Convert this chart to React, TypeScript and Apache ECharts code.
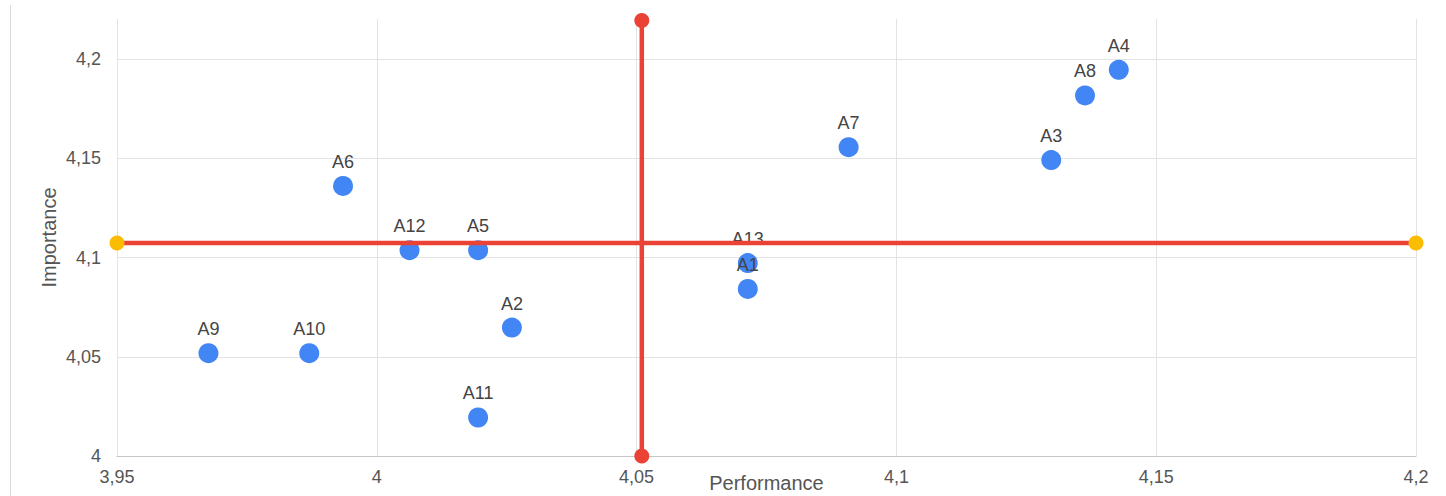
import React, { useEffect, useRef } from "react";
import * as echarts from "echarts";

const pointLabels = ["A1", "A2", "A3", "A4", "A5", "A6", "A7", "A8", "A9", "A10", "A11", "A12", "A13"];
const performance = [4.0714, 4.026, 4.1298, 4.1428, 4.0195, 3.9935, 4.0908, 4.1363, 3.9676, 3.987, 4.0195, 4.0063, 4.0714];
const importance = [4.0842, 4.0647, 4.1491, 4.1946, 4.1037, 4.1361, 4.1556, 4.1817, 4.0518, 4.0518, 4.0194, 4.1037, 4.0972];

const xMin = 3.95;
const xMax = 4.2;
const yMin = 4.0;
const yMax = 4.2202;
const tickStep = 0.05;

const perfMean = 4.051;
const impMean = 4.1073;
const vLineY = [4.0, 4.2195];

const fmt = (v: number) => String(parseFloat(v.toFixed(4))).replace(".", ",");

export default function App() {
  const ref = useRef<HTMLDivElement>(null);
  useEffect(() => {
    if (!ref.current) return;
    const chart = echarts.init(ref.current, null, { renderer: "svg" });
    const font = "'Liberation Sans', Arial, sans-serif";
    chart.setOption({
      animation: false,
      backgroundColor: "#ffffff",
      textStyle: { fontFamily: font },
      grid: { left: 117, right: 30, top: 19, bottom: 40, containLabel: false, outerBoundsMode: "none" },
      graphic: [
        {
          type: "line",
          shape: { x1: 10.5, y1: 5, x2: 10.5, y2: 496 },
          style: { stroke: "#dadada", lineWidth: 1 },
          silent: true,
        },
      ],
      xAxis: {
        type: "value",
        min: xMin,
        max: xMax,
        interval: tickStep,
        name: "Performance",
        nameLocation: "middle",
        nameGap: 17,
        nameMoveOverlap: false,
        nameTextStyle: { fontSize: 20, color: "#555", fontFamily: font },
        axisLine: { show: true, lineStyle: { color: "#c6c6c6", width: 1 } },
        axisTick: { show: false },
        axisLabel: { fontSize: 18, color: "#555", margin: 12, fontFamily: font, formatter: fmt },
        splitLine: { show: true, showMinLine: true, showMaxLine: true, lineStyle: { color: "#e3e3e3", width: 1 } },
      },
      yAxis: {
        type: "value",
        min: yMin,
        max: yMax,
        interval: tickStep,
        name: "Importance",
        nameLocation: "middle",
        nameGap: 58,
        nameMoveOverlap: false,
        nameTextStyle: { fontSize: 20, color: "#555", fontFamily: font },
        axisLine: { show: false },
        axisTick: { show: false },
        axisLabel: { fontSize: 18, color: "#555", margin: 16, fontFamily: font, formatter: fmt, showMaxLabel: false },
        splitLine: { show: true, showMinLine: false, showMaxLine: false, lineStyle: { color: "#e3e3e3", width: 1 } },
      },
      series: [
        {
          type: "scatter",
          symbol: "circle",
          symbolSize: 20,
          itemStyle: { color: "#4285F4", opacity: 1 },
          z: 2,
          label: {
            show: true,
            position: "top",
            distance: 5,
            fontSize: 18,
            color: "#444",
            fontFamily: font,
            formatter: (p: any) => p.data[2],
          },
          labelLayout: { hideOverlap: false },
          data: performance.map((x, i) => [x, importance[i], pointLabels[i]]),
        },
        {
          type: "line",
          z: 3,
          clip: false,
          symbol: "circle",
          symbolSize: 15,
          showSymbol: true,
          lineStyle: { color: "#EA4335", width: 4.5 },
          itemStyle: { color: "#FBBC04", opacity: 1 },
          data: [
            [xMin, impMean],
            [xMax, impMean],
          ],
        },
        {
          type: "line",
          z: 3,
          clip: false,
          symbol: "circle",
          symbolSize: 15,
          showSymbol: true,
          lineStyle: { color: "#EA4335", width: 4.5 },
          itemStyle: { color: "#EA4335", opacity: 1 },
          data: vLineY.map((y) => [perfMean, y]),
        },
      ],
    });
    return () => chart.dispose();
  }, []);
  return (
    <div
      ref={ref}
      style={{ position: "fixed", left: 0, top: 0, width: 1446, height: 496, background: "#fff" }}
    />
  );
}
